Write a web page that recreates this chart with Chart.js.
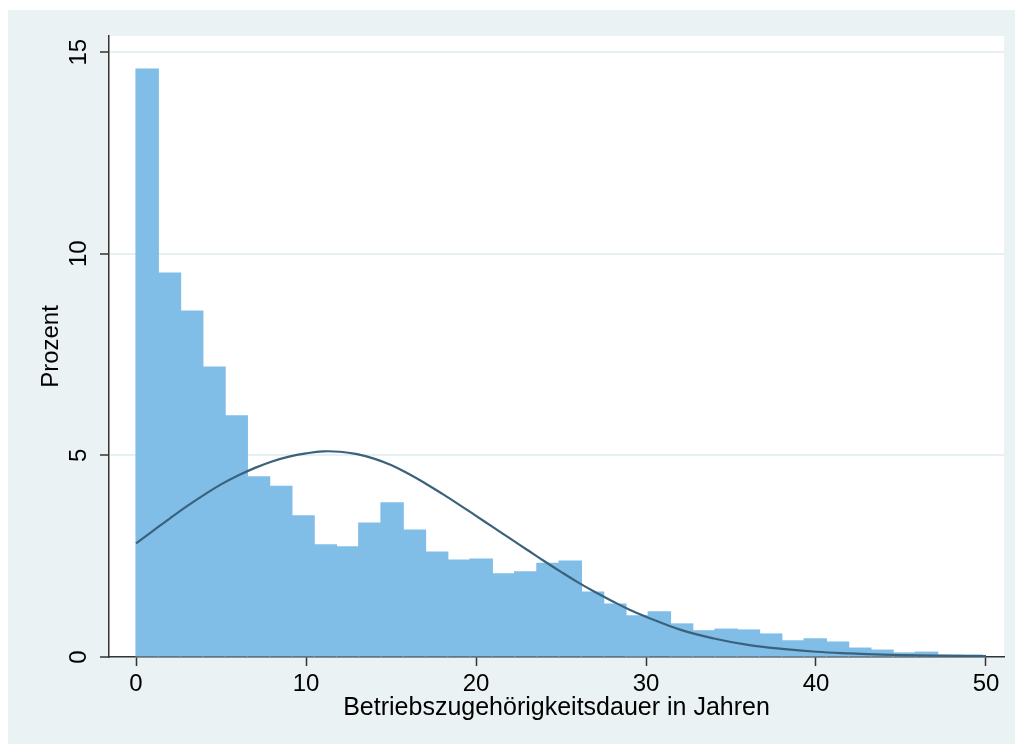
<!DOCTYPE html>
<html>
<head>
<meta charset="utf-8">
<script src="https://cdn.jsdelivr.net/npm/chart.js@4"></script>
<style>
  html, body { margin: 0; padding: 0; background: #fff; }
  #chart { display: block; }
</style>
</head>
<body>
<canvas id="chart" width="1015" height="744"></canvas>
<script>
// Histogram bins (width in years) and bar heights in percent
const binWidth = 1.31;
const binPercent = [14.58, 9.52, 8.58, 7.19, 5.98, 4.47, 4.23, 3.50, 2.78, 2.73,
                    3.32, 3.82, 3.15, 2.60, 2.40, 2.43, 2.06, 2.11, 2.32, 2.38,
                    1.61, 1.31, 1.02, 1.12, 0.82, 0.65, 0.69, 0.67, 0.57, 0.40,
                    0.45, 0.37, 0.22, 0.17, 0.10, 0.12, 0.05, 0.05];

// Normal density overlay
const curveX = [0, 1, 2, 3, 4, 5, 6, 7, 8, 9, 10, 11, 12, 13, 14, 15, 16, 17, 18, 19,
                20, 21, 22, 23, 24, 25, 26, 27, 28, 29, 30, 32, 34, 36, 38, 40, 42,
                44, 46, 48, 50];
const curveY = [2.82, 3.13, 3.44, 3.74, 4.02, 4.28, 4.50, 4.69, 4.85, 4.97, 5.05,
                5.10, 5.09, 5.03, 4.92, 4.76, 4.55, 4.31, 4.05, 3.78, 3.50, 3.22,
                2.94, 2.66, 2.38, 2.11, 1.85, 1.61, 1.39, 1.18, 1.00, 0.68, 0.46,
                0.30, 0.20, 0.13, 0.09, 0.06, 0.04, 0.03, 0.02];

// Axis ticks and ranges
const xTicks = [0, 10, 20, 30, 40, 50];
const yTicks = [0, 5, 10, 15];
const xRange = [-1.59, 51.06];
const yRange = [0, 15.4];

const xTitle = 'Betriebszugehörigkeitsdauer in Jahren';
const yTitle = 'Prozent';

const FONT = "'Liberation Sans', Arial, Helvetica, sans-serif";
const PANEL_BG = '#EAF2F3';
const AXIS_COLOR = '#333333';

// Paint the light outer panel and the white plot region
const backgroundPlugin = {
    id: 'panelBackground',
    beforeDraw(chart) {
        const { ctx, chartArea } = chart;
        ctx.save();
        ctx.fillStyle = '#ffffff';
        ctx.fillRect(0, 0, chart.width, chart.height);
        ctx.fillStyle = PANEL_BG;
        ctx.fillRect(8, 10, chart.width - 8, chart.height - 10);
        ctx.fillStyle = '#ffffff';
        ctx.fillRect(chartArea.left, chartArea.top,
                     chartArea.right - chartArea.left, chartArea.bottom - chartArea.top);
        ctx.restore();
    }
};

const barData = binPercent.map((v, i) => ({ x: (i + 0.5) * binWidth, y: v }));
const curveData = curveX.map((x, i) => ({ x: x, y: curveY[i] }));

const ctx = document.getElementById('chart').getContext('2d');
new Chart(ctx, {
    type: 'bar',
    data: {
        datasets: [
            {
                type: 'line',
                data: curveData,
                borderColor: '#3A627C',
                borderWidth: 2.2,
                pointRadius: 0,
                tension: 0.4,
                fill: false,
                order: 0
            },
            {
                type: 'bar',
                data: barData,
                backgroundColor: '#80BEE8',
                borderWidth: 0,
                inflateAmount: 0.6,
                barPercentage: 1,
                categoryPercentage: 1,
                order: 1
            }
        ]
    },
    options: {
        responsive: false,
        devicePixelRatio: 1,
        animation: false,
        layout: { padding: { top: 36, right: 11, left: 0, bottom: 0 } },
        plugins: {
            legend: { display: false },
            tooltip: { enabled: false }
        },
        scales: {
            x: {
                type: 'linear',
                offset: false,
                min: xRange[0],
                max: xRange[1],
                afterBuildTicks: (scale) => { scale.ticks = xTicks.map(v => ({ value: v })); },
                afterFit: (scale) => { scale.height = 87; },
                border: { display: true, color: AXIS_COLOR, width: 1.5 },
                grid: {
                    offset: false,
                    drawOnChartArea: false,
                    drawTicks: true,
                    tickLength: 9,
                    tickColor: AXIS_COLOR,
                    tickWidth: 1.5
                },
                ticks: {
                    color: '#000',
                    padding: 4,
                    maxRotation: 0,
                    font: { family: FONT, size: 24 }
                },
                title: {
                    display: true,
                    text: xTitle,
                    color: '#000',
                    font: { family: FONT, size: 25 },
                    padding: { top: 0, bottom: 21 }
                }
            },
            y: {
                type: 'linear',
                min: yRange[0],
                max: yRange[1],
                z: 1,
                afterBuildTicks: (scale) => { scale.ticks = yTicks.map(v => ({ value: v })); },
                afterFit: (scale) => { scale.width = 109; },
                border: { display: true, color: AXIS_COLOR, width: 1.5 },
                grid: {
                    color: (c) => c.tick && c.tick.value === 0 ? 'rgba(0,0,0,0)' : 'rgba(226,236,239,0.85)',
                    lineWidth: 2,
                    drawTicks: true,
                    tickLength: 9,
                    tickColor: AXIS_COLOR,
                    tickWidth: 1.5
                },
                ticks: {
                    color: '#000',
                    padding: 7,
                    minRotation: 90,
                    maxRotation: 90,
                    crossAlign: 'center',
                    font: { family: FONT, size: 24 }
                },
                title: {
                    display: true,
                    text: yTitle,
                    color: '#000',
                    font: { family: FONT, size: 24 },
                    padding: { top: 37, bottom: 0 }
                }
            }
        }
    },
    plugins: [backgroundPlugin]
});
</script>
</body>
</html>
